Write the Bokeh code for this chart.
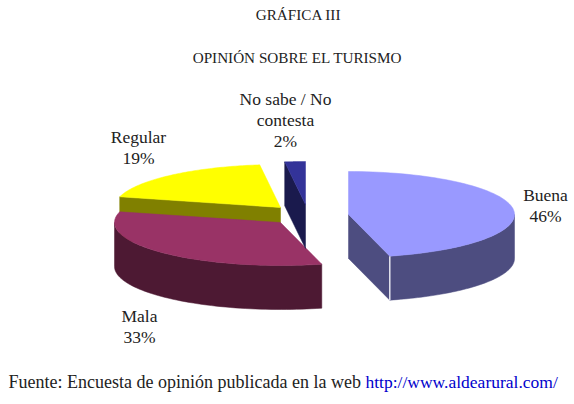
import numpy as np
from bokeh.plotting import figure
from bokeh.models import Range1d
from bokeh.core.properties import value
from bokeh.embed import file_html
from bokeh.resources import INLINE

title_lines = ["GRÁFICA III", "OPINIÓN SOBRE EL TURISMO"]
categories = ["Buena", "Mala", "Regular", "No sabe / No\ncontesta"]
percent = [46, 33, 19, 2]
footer = "Fuente: Encuesta de opinión publicada en la web"
footer_link = "http://www.aldearural.com/"

top_colors = ["#9999FF", "#993366", "#FFFF00", "#333399"]
side_colors = ["#4D4D80", "#4D1933", "#808000", "#1A1A4D"]
centers = [(348, 214), (280, 222), (280, 207), (305, 204)]
label_pos = [(545, 184), (139, 305), (138, 126), (285, 88)]
RX, RY, DEPTH = 166, 43, 44
FONT = value("Liberation Serif")

p = figure(width=574, height=404, output_backend="svg", toolbar_location=None,
           x_range=Range1d(0, 574), y_range=Range1d(404, 0), min_border=0,
           background_fill_color="white", outline_line_color=None)
p.axis.visible = False
p.grid.visible = False

edges = 90 - 360 * np.cumsum([0] + percent) / sum(percent)


def pt(c, deg):
    r = np.radians(deg)
    return c[0] + RX * np.cos(r), c[1] - RY * np.sin(r)


def wall(c, a0, a1):
    t = np.linspace(a0, a1, 60)
    x, y = pt(c, t)
    return np.r_[x, x[::-1]], np.r_[y, y[::-1] + DEPTH]


# paint back to front: Regular, Mala, No sabe, Buena
for i in [2, 1, 3, 0]:
    c = centers[i]
    a0, a1 = edges[i], edges[i + 1]
    # cut face that looks at the viewer
    if i == 0:
        fx, fy = pt(c, a1)
        p.patch([c[0], fx, fx, c[0]], [c[1], fy, fy + DEPTH, c[1] + DEPTH],
                color=side_colors[i], line_width=0.5)
    elif i != 1:
        fx, fy = pt(c, a0)
        p.patch([c[0], fx, fx, c[0]], [c[1], fy, fy + DEPTH, c[1] + DEPTH],
                color=side_colors[i], line_width=0.5)
    # outer wall on the lower half of the ellipse
    lo, hi = max(a1, -180), min(a0, 0)
    if lo < hi:
        xs, ys = wall(c, hi, lo)
        p.patch(xs, ys, color=side_colors[i], line_width=0.5)
    # top face
    t = np.linspace(a0, a1, 80)
    x, y = pt(c, t)
    p.patch(np.r_[c[0], x], np.r_[c[1], y], color=top_colors[i], line_width=0.5)

# light seam between the two walls of Buena
sx, sy = pt(centers[0], edges[1])
p.segment([sx], [sy], [sx], [sy + DEPTH], line_color="#E4E4EE", line_width=1.5)

for name, pct, (lx, ly) in zip(categories, percent, label_pos):
    p.text([lx], [ly], text=[f"{name}\n{pct}%"], text_font=FONT, text_font_size="17.5px",
           text_align="center", text_baseline="top", text_color="#222222", text_line_height=1.05)

p.text([298], [14], text=[title_lines[0]], text_font=FONT, text_font_size="15.2px",
       text_align="center", text_baseline="middle", text_color="#222222")
p.text([297], [57], text=[title_lines[1]], text_font=FONT, text_font_size="15.2px",
       text_align="center", text_baseline="middle", text_color="#222222")

p.text([8], [381], text=[footer], text_font=FONT, text_font_size="18px",
       text_align="left", text_baseline="middle", text_color="#222222")
p.text([365], [381], text=[footer_link], text_font=FONT, text_font_size="17.5px",
       text_align="left", text_baseline="middle", text_color="#0000CC")

open("out.html", "w").write(file_html(p, INLINE))
